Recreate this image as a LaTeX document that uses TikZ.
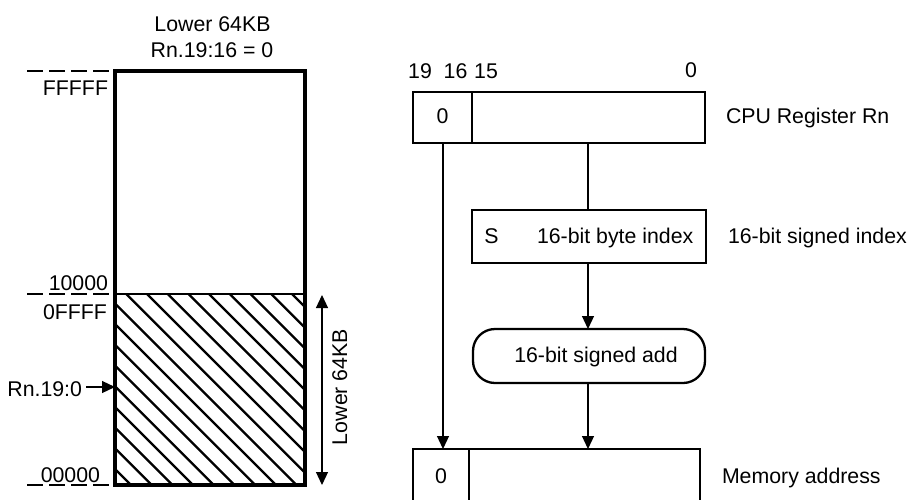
\documentclass[tikz,border=0pt]{standalone}
\usepackage{fontspec}
\setmainfont{Liberation Sans}
\usetikzlibrary{arrows.meta}
\begin{document}
\begin{tikzpicture}[x=1pt,y=-1pt,
  txt/.style={font=\fontsize{21.3}{25}\selectfont, inner sep=0pt, outer sep=0pt},
  boxthick/.style={draw, line width=2.7pt, inner sep=0pt, outer sep=0pt},
  thinln/.style={line width=1.2pt},
  arr/.style={thinln, -{Triangle[width=12pt,length=13pt]}},
  darr/.style={thinln, {Triangle[width=12pt,length=13pt]}-{Triangle[width=12pt,length=13pt]}},
  dashln/.style={thinln, dash pattern=on 16pt off 6pt},
  hatchln/.style={line width=2.3pt}
]
\useasboundingbox (0,0) rectangle (911,499);

% ---- left: memory map ----
\begin{scope}
  \clip (115,294) rectangle (305,485);
  \foreach \k in {-10,...,10}
    \draw[hatchln] ({126.3+20.7*\k},294) -- ++(200,200);
\end{scope}
\node[boxthick, line width=3.2pt, minimum width=190pt, minimum height=414pt, anchor=north west] (mem) at (115,71) {};
\coordinate (split) at (115,294);
\draw[thinln] (split) -- (split -| mem.east);

\coordinate (d1) at (27,71);
\coordinate (d2) at (27,294);
\coordinate (d3) at (27,485);
\draw[dashln] (d1) -- (d1 -| mem.west);
\draw[dashln] (d2) -- (d2 -| mem.west);
\draw[dashln] (d3) -- (d3 -| mem.west);

\node[txt, anchor=base] (t1) at (212.5,31) {Lower 64KB};
\node[txt, anchor=base] (t2) at (212,57) {Rn.19:16 = 0};
\node[txt, anchor=base east] (lfffff) at (108,95) {FFFFF};
\node[txt, anchor=base east] (l10000) at (108,290) {10000};
\node[txt, anchor=base east] (l0ffff) at (107,319) {0FFFF};
\node[txt, anchor=base east] (l00000) at (100,482) {00000};
\node[txt, anchor=base east] (lrn) at (82,396) {Rn.19:0};
\coordinate (rnstart) at (86,387);
\draw[arr] (rnstart) -- (rnstart -| mem.west);

\coordinate (la) at (322,295);
\coordinate (lb) at (322,485);
\draw[darr] (la) -- (lb);
\node[txt, rotate=90, anchor=base] (l64) at (347,387) {Lower 64KB};

% ---- right: address computation ----
\node[boxthick, minimum width=59pt, minimum height=51pt, anchor=north west] (reghi) at (413,92) {};
\node[boxthick, minimum width=233pt, minimum height=51pt, anchor=north west] (reglo) at (472,92) {};
\node[txt, anchor=base] (r0) at (442.5,123) {0};
\node[txt, anchor=base] (b19) at (420,78) {19};
\node[txt, anchor=base] (b16) at (455.5,78) {16};
\node[txt, anchor=base] (b15) at (486,78) {15};
\node[txt, anchor=base] (b0) at (691,77) {0};
\node[txt, anchor=base west] (lcpu) at (726,123) {CPU Register Rn};

\node[boxthick, minimum width=234pt, minimum height=53pt, anchor=north west] (sbox) at (472,210) {};
\node[txt, anchor=base] (ls) at (491.5,243) {S};
\node[txt, anchor=base west] (lbyte) at (537,243) {16-bit byte index};
\node[txt, anchor=base west] (lsigned) at (728,243) {16-bit signed index};

\node[draw, line width=2.3pt, rounded corners=22pt, inner sep=0pt, outer sep=0pt, minimum width=232pt, minimum height=54pt, anchor=north west] (add) at (473,329) {};
\node[txt, anchor=base] (ladd) at (596,362) {16-bit signed add};

\begin{scope}
  \clip (0,0) rectangle (911,499);
  \node[boxthick, minimum width=56pt, minimum height=52pt, anchor=north west] (mahi) at (413,449) {};
  \node[boxthick, minimum width=231pt, minimum height=52pt, anchor=north west] (malo) at (469,449) {};
\end{scope}
\node[txt, anchor=base] (m0) at (441,483) {0};
\node[txt, anchor=base west] (lmem) at (722,483) {Memory address};

\coordinate (c0) at (443,0);
\coordinate (c1) at (588,0);
\draw[arr] (c0 |- reghi.south) -- (c0 |- mahi.north);
\draw[thinln] (c1 |- reglo.south) -- (c1 |- sbox.north);
\draw[arr] (c1 |- sbox.south) -- (c1 |- add.north);
\draw[arr] (c1 |- add.south) -- (c1 |- malo.north);
\end{tikzpicture}
\end{document}
